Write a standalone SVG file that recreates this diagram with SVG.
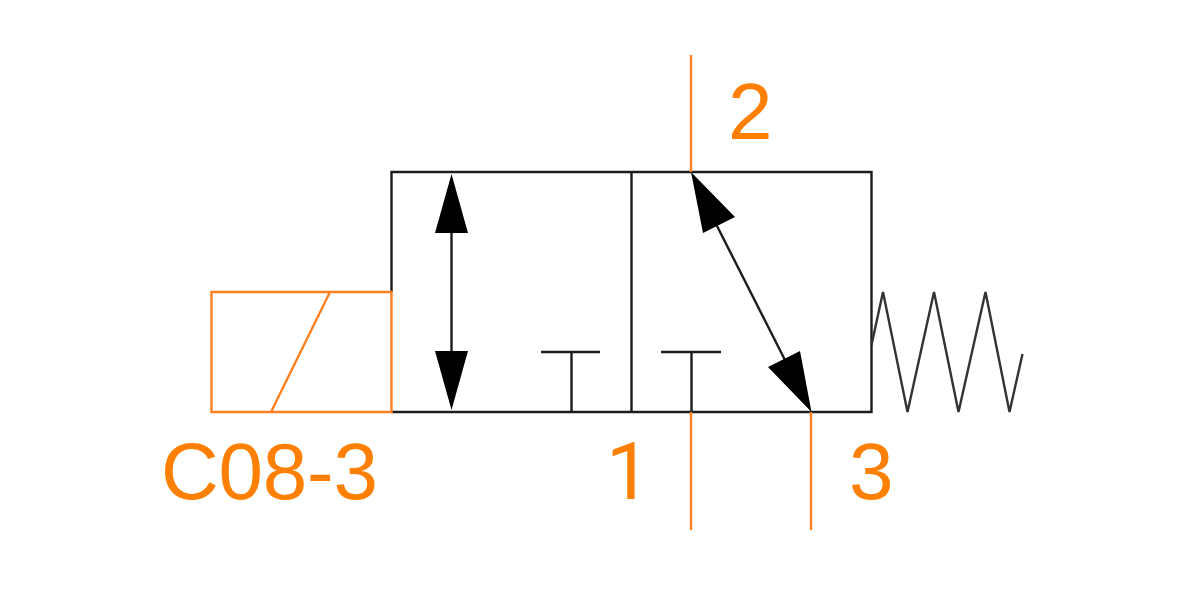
<svg xmlns="http://www.w3.org/2000/svg" width="1200" height="600" viewBox="0 0 1200 600">
<style>
.k{fill:none;stroke:#1c1c1c;stroke-width:2.4}
.o{fill:none;stroke:#ff8020;stroke-width:2.4}
.h{fill:#000;stroke:none}
.t{fill:#ff8000;font-family:"Liberation Sans",Arial,sans-serif;font-size:80px}
.r{font-family:Roboto,"Liberation Sans",sans-serif}
</style>
<rect width="1200" height="600" fill="#fff"/>
<g id="valve-body">
<path class="k" d="M391.5 292V172H871.5V412H391.5M631.5 172V412"/>
</g>
<g id="left-cell">
<path class="k" d="M451.5 232V352M541 352H600M571.5 352V412"/>
<path class="h" d="M451.5 174L468 233H435ZM451.5 410L468 351H435Z"/>
</g>
<g id="right-cell">
<path class="k" d="M661 352H721M691.5 352V412M715 222L787 364"/>
<path class="h" d="M691 172L735 217L703 233ZM811.5 412L768 367L800 351Z"/>
</g>
<g id="spring">
<path fill="none" stroke="#333" stroke-width="2.4" d="M871.5 345L883 292L907.5 412L934 292L958.5 412L985.5 292L1009.5 412L1022.5 354"/>
</g>
<g id="solenoid">
<path class="o" d="M391.5 292H211.5V412H391.5ZM330 292L271 412"/>
<text class="t" x="161" y="499" textLength="217">C08-3</text>
</g>
<g id="connectors">
<path class="o" d="M691 55V172M691 412V530M811 412V530"/>
</g>
<g id="port-labels">
<text class="t" x="728" y="139">2</text>
<text class="t r" x="606" y="499">1</text>
<text class="t" x="849" y="499">3</text>
</g>
</svg>
